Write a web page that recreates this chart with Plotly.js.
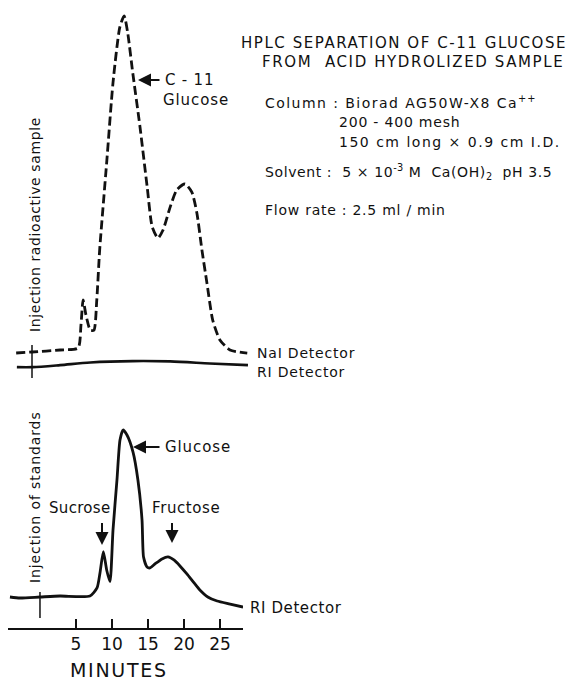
<!DOCTYPE html>
<html>
<head>
<meta charset="utf-8">
<script src="https://cdn.plot.ly/plotly-3.0.1.min.js"></script>
<style>html,body{margin:0;padding:0;background:#fff;}#chart{width:573px;height:682px;}</style>
</head>
<body>
<div id="chart"></div>
<script>
// ---- Data (minutes after injection, relative detector response) ----
// Upper panel: radioactive sample, NaI (radioactivity) detector, dashed
const naiTime = [-2.2, 0, 3.9, 6.4, 6.8, 7.1, 7.5, 8.1, 8.6, 9.0, 9.4, 10.4, 11.25, 12.2, 12.8, 13.3, 14.0, 15.0, 16.0, 16.7, 17.5, 18.2, 19.2, 20.1, 21.25, 22.2, 22.9, 23.6, 24.3, 25.1, 26.1, 27.5, 29.9];
const naiSignal = [-0.3, 0, 0.6, 1.2, 8.0, 15.5, 11.0, 6.5, 6.5, 15.5, 30.4, 57.1, 80.1, 96.7, 100, 94.9, 83.0, 67.0, 49.1, 37.2, 33.9, 36.3, 43.2, 48.2, 50.0, 47.6, 41.4, 30.4, 20.5, 9.5, 3.6, 0.6, -0.3];
// Upper panel: RI detector, solid
const riTopTime = [-2.1, 0.1, 3.9, 8.1, 14.0, 19.2, 24.7, 30.0];
const riTopSignal = [-4.5, -4.5, -3.9, -3.1, -2.7, -2.8, -3.4, -3.9];
// Lower panel: injection of standards, RI detector
const stdTime = [-4.17, -2.78, 0, 2.78, 6.94, 7.92, 8.33, 8.8, 9.26, 9.72, 10.14, 10.69, 11.11, 11.53, 12.08, 12.92, 13.6, 14.17, 14.38, 14.86, 15.28, 15.97, 16.94, 17.78, 18.6, 19.44, 20.4, 21.4, 22.2, 23.3, 24.6, 26.4, 28.2];
const stdSignal = [0, -0.6, 0, 0.6, 0.6, 5.4, 14.4, 27.1, 16.2, 9.2, 40.1, 70.1, 94.0, 100, 97.0, 86.8, 70.1, 46.1, 23.9, 18.0, 17.4, 19.8, 22.8, 24.0, 22.2, 18.6, 13.8, 8.4, 4.2, 0, -2.4, -4.2, -6.0];
const injectionTime = [0, 0];
const injectionTopMark = [2.1, -7.7];
const injectionBottomMark = [3.0, -12.6];
const tickVals = [5, 10, 15, 20, 25];
const tickText = ['5', '10', '15', '20', '25'];

// ---- Layout helpers ----
const W = 573, H = 682;
const px = x => x / W;
const py = y => 1 - y / H;
const FONT = 'DejaVu Sans, sans-serif';
const INK = '#111';

const traces = [
  {x: naiTime, y: naiSignal, xaxis: 'x2', yaxis: 'y2', mode: 'lines',
   line: {color: INK, width: 2.8, dash: '9px,4px', shape: 'spline', smoothing: 0.6}, name: 'NaI Detector'},
  {x: riTopTime, y: riTopSignal, xaxis: 'x2', yaxis: 'y2', mode: 'lines',
   line: {color: INK, width: 2.6, shape: 'spline', smoothing: 0.8}, name: 'RI Detector'},
  {x: injectionTime, y: injectionTopMark, xaxis: 'x2', yaxis: 'y2', mode: 'lines',
   line: {color: INK, width: 1.5}, name: 'Injection'},
  {x: stdTime, y: stdSignal, xaxis: 'x', yaxis: 'y', mode: 'lines',
   line: {color: INK, width: 2.8, shape: 'spline', smoothing: 0.6}, name: 'RI Detector (standards)'},
  {x: injectionTime, y: injectionBottomMark, xaxis: 'x', yaxis: 'y', mode: 'lines',
   line: {color: INK, width: 1.5}, name: 'Injection'}
];

function sp(text, ls) {
  return '<span style="letter-spacing:' + ls + 'px">' + text + '</span>';
}
function txtRaw(html, x, y, size, opts) {
  return Object.assign({text: html, x: px(x), y: py(y), xref: 'paper', yref: 'paper',
    showarrow: false, font: {family: FONT, size: size, color: INK},
    xanchor: 'left', yanchor: 'middle'}, opts || {});
}
function txt(text, x, y, size, ls, opts) {
  return txtRaw(sp(text, ls), x, y, size, opts);
}
function arrow(hx, hy, tx, ty) {
  return {text: ' ', x: px(hx), y: py(hy), xref: 'paper', yref: 'paper',
    showarrow: true, ax: tx - hx, ay: ty - hy, arrowhead: 2, arrowsize: 1.3,
    arrowwidth: 2, arrowcolor: INK, font: {size: 1}};
}

const annotations = [
  txt('HPLC SEPARATION OF C-11 GLUCOSE', 239, 43, 15, 1.55),
  txt('FROM  ACID HYDROLIZED SAMPLE', 260, 62, 15, 1.6),
  txtRaw(sp('Column : Biorad AG50W-X8 Ca', 1.45) + '<sup>' + sp('++', 1) + '</sup>', 263, 102, 14),
  txt('200 - 400 mesh', 337, 122, 14, 0.8),
  txt('150 cm long × 0.9 cm I.D.', 337, 142, 14, 1.5),
  txtRaw(sp('Solvent :  5 × 10', 0.6) + '<sup>' + sp('-3', 0.3) + '</sup>' + sp(' M  Ca(OH)', 0.6) +
         '<sub>' + sp('2', 0.3) + '</sub>' + sp('  pH 3.5', 0.6), 263, 172, 14),
  txt('Flow rate : 2.5 ml / min', 263, 210, 14, 0.75),
  txt('C - 11', 163, 80, 15, 0.8),
  txt('Glucose', 161, 100, 15, 0.9),
  arrow(138, 80, 161, 80),
  txt('NaI Detector', 255, 353, 14, 0.8),
  txt('RI Detector', 255, 372, 14, 0.8),
  txt('Injection radioactive sample', 35, 225, 14, 0.6, {textangle: -90, xanchor: 'center'}),
  txt('Injection of standards', 35, 497, 14, 0.9, {textangle: -90, xanchor: 'center'}),
  txt('Glucose', 163, 447, 15, 0.9),
  arrow(133, 447, 161, 447),
  txt('Sucrose', 79, 508, 15, 0.3, {xanchor: 'center'}),
  arrow(102, 545, 102, 521),
  txt('Fructose', 186, 508, 15, 0.6, {xanchor: 'center'}),
  arrow(172, 543, 172, 521),
  txt('RI Detector', 248, 608, 15, 0.6),
  txt('MINUTES', 119, 670, 19, 1.7, {xanchor: 'center'})
];

const layout = {
  width: W, height: H,
  margin: {l: 0, r: 0, t: 0, b: 0},
  paper_bgcolor: '#fff', plot_bgcolor: 'rgba(0,0,0,0)',
  showlegend: false,
  font: {family: FONT, color: INK},
  xaxis: {domain: [px(8), px(243)], range: [-4.44, 28.19], anchor: 'y',
    showline: true, linecolor: INK, linewidth: 2, showgrid: false, zeroline: false,
    ticks: 'inside', ticklen: 9, tickwidth: 1.5, tickcolor: INK,
    tickvals: tickVals, ticktext: tickText,
    tickfont: {family: FONT, size: 17, color: INK}},
  yaxis: {domain: [py(628), py(420)], range: [-18.56, 106], visible: false},
  xaxis2: {domain: [px(5), px(250)], range: [-3.75, 30.28], anchor: 'y2', visible: false},
  yaxis2: {domain: [py(380), py(5)], range: [-8.33, 103.27], visible: false},
  annotations: annotations
};

Plotly.newPlot('chart', traces, layout, {displayModeBar: false, staticPlot: true});
</script>
</body>
</html>
